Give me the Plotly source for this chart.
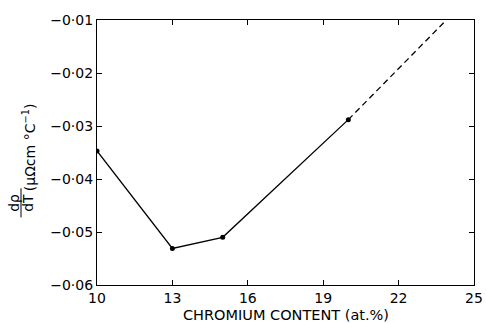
import plotly.graph_objects as go

# Data
cr_content = [10, 13, 15, 20]
drho_dT = [-0.0347, -0.0531, -0.0510, -0.0288]
extrap_x = [20, 23.9]
extrap_y = [-0.0288, -0.0100]

x_ticks = [10, 13, 16, 19, 22, 25]
y_ticks = [-0.01, -0.02, -0.03, -0.04, -0.05, -0.06]
y_tick_labels = ["−0·01", "−0·02", "−0·03", "−0·04", "−0·05", "−0·06"]

FONT = "DejaVu Sans"
fig = go.Figure()
fig.add_trace(go.Scatter(x=cr_content, y=drho_dT, mode="lines+markers",
                         line=dict(color="black", width=1.3),
                         marker=dict(color="black", size=5), showlegend=False))
fig.add_trace(go.Scatter(x=extrap_x, y=extrap_y, mode="lines",
                         line=dict(color="black", width=1.3, dash="6px,4px"),
                         showlegend=False))

axis_common = dict(showline=True, linecolor="black", linewidth=1.2, mirror="ticks",
                   ticks="inside", ticklen=5, tickcolor="black", showgrid=False,
                   zeroline=False, automargin=False,
                   tickfont=dict(family=FONT, size=14, color="black"))
fig.update_xaxes(range=[10, 25], tickvals=x_ticks, ticktext=[str(v) for v in x_ticks],
                 **axis_common)
fig.update_yaxes(range=[-0.06, -0.01], tickvals=y_ticks, ticktext=y_tick_labels,
                 **axis_common)

# x-axis title
fig.add_annotation(xref="paper", yref="paper", x=0.5, y=0, yshift=-30,
                   xanchor="center", yanchor="middle",
                   text="CHROMIUM CONTENT (at.%)", showarrow=False,
                   font=dict(family=FONT, size=14.5, color="black"))

# y-axis label: fraction dρ/dT plus units
fig.add_annotation(xref="paper", yref="paper", x=0, xshift=-83, y=0.31,
                   xanchor="center", yanchor="middle",
                   text="dρ", textangle=-90, showarrow=False,
                   font=dict(family=FONT, size=14, color="black"))
fig.add_annotation(xref="paper", yref="paper", x=0, xshift=-69, y=0.31,
                   xanchor="center", yanchor="middle",
                   text="dT", textangle=-90, showarrow=False,
                   font=dict(family=FONT, size=14, color="black"))
fig.add_shape(type="line", xref="paper", yref="paper", x0=-76 / 377, x1=-76 / 377,
              y0=0.255, y1=0.365, line=dict(color="black", width=1))
fig.add_annotation(xref="paper", yref="paper", x=0, xshift=-68, y=0.52,
                   xanchor="center", yanchor="middle",
                   text="(μΩcm °C<sup>−1</sup>)", textangle=-90, showarrow=False,
                   font=dict(family=FONT, size=14, color="black"))

fig.update_layout(width=486, height=323, margin=dict(l=97, r=12, t=20, b=38),
                  plot_bgcolor="white", paper_bgcolor="white")
fig.write_html("out.html", config={"displayModeBar": False, "responsive": False},
               post_script="document.body.style.margin='0';"
                           "document.body.style.overflow='hidden';"
                           "document.documentElement.style.overflow='hidden';")
